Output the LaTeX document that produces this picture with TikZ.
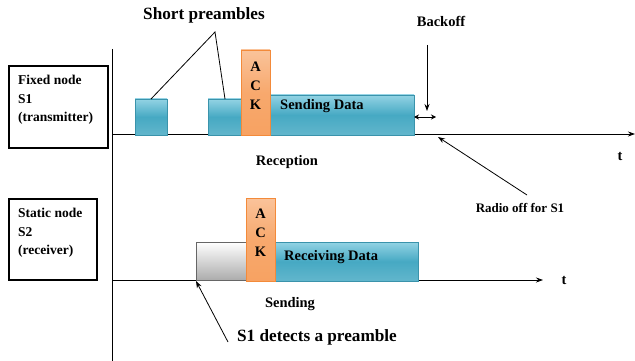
\documentclass[tikz,border=0pt]{standalone}
\usepackage{fontspec}
\setmainfont{Liberation Serif}
\usetikzlibrary{arrows.meta}
\definecolor{tealA}{HTML}{93D3E4}
\definecolor{tealB}{HTML}{46A9C3}
\definecolor{tealE}{HTML}{3A93AB}
\definecolor{orA}{HTML}{FAC39A}
\definecolor{orB}{HTML}{F7A262}
\definecolor{orE}{HTML}{F38A3A}
\tikzset{
  x=1pt,y=-1pt,
  lbl/.style={font=\fontsize{13.5}{18.5}\selectfont\bfseries,align=left,anchor=north west,inner sep=0pt},
  big/.style={font=\fontsize{17.2}{20}\selectfont\bfseries,inner sep=0pt},
  mid/.style={font=\fontsize{14.5}{18}\selectfont\bfseries,inner sep=0pt},
  small/.style={font=\fontsize{13}{16}\selectfont\bfseries,inner sep=0pt},
  framebox/.style={draw,line width=1.3pt},
  tealblk/.style={draw=tealE,line width=0.8pt,top color=tealA,bottom color=tealB!85!white,middle color=tealB},
  orblk/.style={draw=orE,line width=0.8pt,top color=orA,bottom color=orB,middle color=orB!80!orA},
  greyblk/.style={draw=gray!80!black,line width=1pt,top color=white,bottom color=gray!65},
  axis/.style={line width=0.8pt,-{Stealth[length=7pt,width=5pt]}},
  thin/.style={line width=0.8pt},
  pointer/.style={line width=0.8pt,-{Stealth[length=7pt,width=5pt]}}
}
\begin{document}
\begin{tikzpicture}
\useasboundingbox (0,0) rectangle (635,361);
% left boxes
\draw[framebox] (9,66) rectangle (108,148);
\node[lbl] (l1) at (18,75) {Fixed node\\S1\\(transmitter)};
\draw[framebox] (9,199) rectangle (97,280);
\node[lbl] (l2) at (18,208) {Static node\\S2\\(receiver)};
% vertical line
\draw[thin] (112,49) -- (112,361);
% axes
\coordinate (a1s) at (112,134);
\coordinate (a1e) at (635,134);
\draw[axis] (a1s) -- (a1e);
\coordinate (a2s) at (112,280);
\coordinate (a2e) at (543,280);
\draw[axis] (a2s) -- (a2e);
\node[mid] (t1) at (620,156) {t};
\node[mid] (t2) at (564,280) {t};
% top blocks
\draw[tealblk] (135,99) rectangle (167,135);
\coordinate (p1) at (151,99);
\draw[tealblk] (208,99) rectangle (241,135);
\coordinate (p2) at (225,99);
\draw[tealblk] (270,95) rectangle (414,135);
\draw[orblk] (241,50) rectangle (270,135);
\node[mid] at (255.5,67) {A};
\node[mid] at (255.5,86) {C};
\node[mid] at (255.5,105) {K};
\node[mid,anchor=west] (sd) at (280,106) {Sending Data};
% bottom blocks
\draw[greyblk] (196,242) rectangle (246,280);
\coordinate (g1) at (196,281);
\draw[tealblk] (274,242) rectangle (418,281);
\draw[orblk] (246,198) rectangle (275,281);
\node[mid] at (260.5,214) {A};
\node[mid] at (260.5,233) {C};
\node[mid] at (260.5,252) {K};
\node[mid,anchor=west] (rd) at (284,257) {Receiving Data};
% labels
\node[big] (sp) at (204,15) {Short preambles};
\coordinate (spj) at (215,32);
\draw[thin] (p1) -- (spj) -- (p2);
\node[mid] (rec) at (287,162) {Reception};
\node[mid] (snd) at (290,304) {Sending};
\node[big] (det) at (317,337) {S1 detects a preamble};
\coordinate (dets) at (228,342);
\draw[pointer] (dets) -- (g1);
\node[mid] (bo) at (441,21) {Backoff};
\coordinate (bos) at (427,45);
\coordinate (boe) at (427,111);
\draw[pointer] (bos) -- (boe);
\coordinate (bk1) at (414,117);
\coordinate (bk2) at (436,117);
\draw[thin,{Stealth[length=5pt,width=5pt]}-{Stealth[length=5pt,width=5pt]}] (bk1) -- (bk2);
\node[small] (ro) at (520,208) {Radio off for S1};
\coordinate (ros) at (527,195);
\coordinate (roe) at (438,137);
\draw[pointer] (ros) -- (roe);
\end{tikzpicture}
\end{document}
